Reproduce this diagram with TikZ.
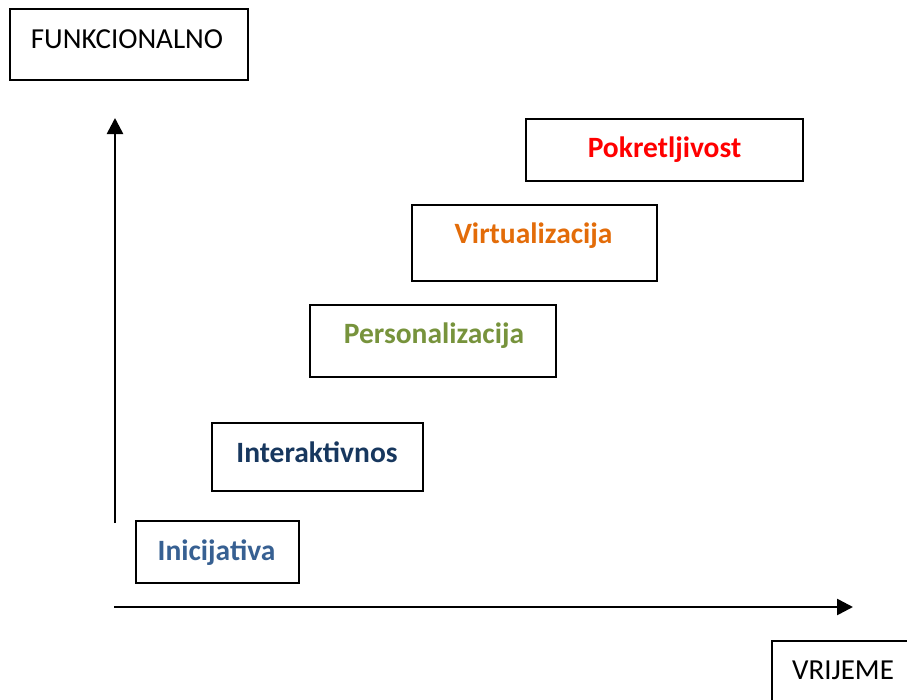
\documentclass[tikz,border=0pt]{standalone}
\usepackage{fontspec}
\setmainfont{Carlito}
\usetikzlibrary{arrows.meta}
\definecolor{cIni}{HTML}{376092}
\definecolor{cInt}{HTML}{17375E}
\definecolor{cPer}{HTML}{77933C}
\definecolor{cVir}{HTML}{E36C09}
\definecolor{cPok}{HTML}{FF0000}
\begin{document}
\begin{tikzpicture}[x=1pt,y=-1pt,
  boxstyle/.style={draw=black,line width=2pt,fill=white},
  lbl/.style={anchor=base,inner sep=0pt,font=\fontsize{29}{33}\selectfont},
  blbl/.style={lbl,font=\fontsize{29.5}{34}\selectfont\bfseries},
  axis/.style={line width=2.6pt,-{Triangle[length=16pt,width=16pt]}}]
\useasboundingbox (0,0) rectangle (907,699);
\fill[white] (0,0) rectangle (907,699);
% axis label boxes
\draw[boxstyle] (10,9) rectangle (248,80);
\node[lbl] (funk) at (127,48) {FUNKCIONALNO};
\draw[boxstyle] (772,641) rectangle (930,720);
\node[lbl] (vrij) at (843,679) {VRIJEME};
% axes
\coordinate (vstart) at (115,523);
\coordinate (vend) at (115,118);
\coordinate (hstart) at (114,607);
\coordinate (hend) at (853,607);
\draw[axis] (vstart) -- (vend);
\draw[axis] (hstart) -- (hend);
% stage boxes
\draw[boxstyle] (136,521) rectangle (299,583);
\node[blbl,text=cIni] (ini) at (216.5,560) {Inicijativa};
\draw[boxstyle] (212,423) rectangle (423,491);
\node[blbl,text=cInt] (int) at (317,462) {Interaktivnos};
\draw[boxstyle] (310,305) rectangle (556,377);
\node[blbl,text=cPer] (per) at (434,343) {Personalizacija};
\draw[boxstyle] (412,205) rectangle (657,281);
\node[blbl,text=cVir] (vir) at (533.5,243) {Virtualizacija};
\draw[boxstyle] (526,119) rectangle (803,181);
\node[blbl,text=cPok] (pok) at (664.5,157) {Pokretljivost};
\end{tikzpicture}
\end{document}
